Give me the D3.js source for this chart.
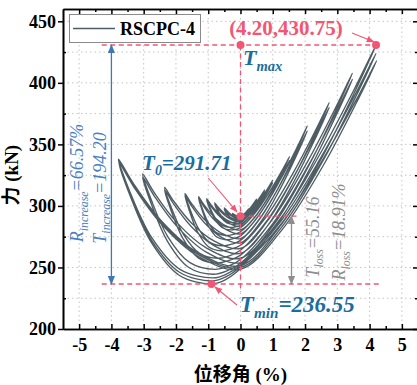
<!DOCTYPE html>
<html><head><meta charset="utf-8">
<script src="https://cdn.jsdelivr.net/npm/d3@7"></script>
<style>html,body{margin:0;padding:0;background:#fff;} svg{display:block;}</style>
</head><body>
<svg id="chart" width="417" height="385"></svg>
<script>
// ---------- data ----------
const xTickValues = [-5,-4,-3,-2,-1,0,1,2,3,4,5];
const xMinorTicks = [-4.5,-3.5,-2.5,-1.5,-0.5,0.5,1.5,2.5,3.5,4.5];
const yTickValues = [200,250,300,350,400,450];
const yMinorTicks = [225,275,325,375,425];
const xGridValues = [-5,-4,-3,-2,-1,0,1,2,3,4,5];
const yGridValues = [225,250,275,300,325,350,375,400,425,450];
const xDomain = [-5.5, 5.5];
const yDomain = [200, 460];
const seriesName = "RSCPC-4";
const xTitle = "位移角 (%)";
const yTitle = "力 (kN)";

// hysteresis cycles: [drift %, force kN]
const level1 = [[0,291.71],[0.13,293.8],[0.25,297.5],[0.13,293.3],[0,291.4],[-0.13,292.1],[-0.25,294],[-0.16,291.8],[-0.08,291.0],[-0.04,291.1],
 [0,291.3],[0.13,293.3],[0.25,297],[0.13,292.8],[0,291.0],[-0.13,291.7],[-0.25,293.5],[-0.16,291.4],[-0.08,290.6],[-0.04,290.7]];
const level2 = [[0,290.9],[0.25,296.8],[0.375,300.9],[0.5,305.5],[0.375,300.2],[0.25,296.0],[0,290.4],[-0.25,292.4],[-0.4,295.6],[-0.5,298.5],[-0.41,293.8],[-0.29,290.2],[-0.15,289.3],[-0.075,289.5],
 [0,290],[0.25,295.9],[0.375,300.0],[0.5,304.5],[0.375,299.3],[0.25,295.1],[0,289.5],[-0.25,291.5],[-0.4,294.6],[-0.5,297.5],[-0.41,292.8],[-0.29,289.3],[-0.15,288.4],[-0.075,288.6]];
const level3 = [[0,289.2],[0.225,294.2],[0.45,301.5],[0.6375,308.5],[0.75,313],[0.6375,308.0],[0.45,300.5],[0.225,293.0],[0,288.5],[-0.28,290.2],[-0.52,294.4],[-0.704,299.3],[-0.8,302.5],[-0.73,298.1],[-0.597,292.0],[-0.423,287.7],[-0.22,286.5],[-0.11,286.9],
 [0,287.8],[0.225,292.8],[0.45,300.0],[0.6375,307.0],[0.75,311.5],[0.6375,306.5],[0.45,299.0],[0.225,291.5],[0,287.0],[-0.28,288.8],[-0.52,293.1],[-0.704,298.2],[-0.8,301.5],[-0.73,297.0],[-0.597,290.6],[-0.423,286.2],[-0.22,285.0],[-0.11,285.4]];
const level4 = [[0,286.3],[0.3,293.6],[0.6,304.2],[0.85,314.4],[1.0,321],[0.85,313.8],[0.6,302.8],[0.3,291.9],[0,285.3],[-0.3675,287.8],[-0.6825,294.1],[-0.924,301.3],[-1.05,306],[-0.96,299.6],[-0.7875,290.5],[-0.5625,284.2],[-0.3,282.5],[-0.15,283.0],
 [0,284.3],[0.3,291.6],[0.6,302.2],[0.85,312.4],[1.0,319],[0.85,311.8],[0.6,300.8],[0.3,289.9],[0,283.3],[-0.3675,286.0],[-0.6825,292.5],[-0.924,300.1],[-1.05,305],[-0.96,298.3],[-0.7875,288.9],[-0.5625,282.3],[-0.3,280.5],[-0.15,281.0]];
const level5 = [[0,282.3],[0.456,294.4],[0.912,312.0],[1.292,329.0],[1.52,340],[1.292,327.9],[0.912,309.6],[0.456,291.5],[0,280.5],[-0.455,283.8],[-0.845,291.9],[-1.144,301.4],[-1.3,307.5],[-1.198,298.9],[-1.0025,286.7],[-0.7475,278.3],[-0.45,276],[-0.225,276.9],
 [0,279],[0.456,291.1],[0.912,308.9],[1.292,326.0],[1.52,337],[1.292,324.9],[0.912,306.5],[0.456,288.3],[0,277.3],[-0.455,280.9],[-0.845,289.6],[-1.144,299.9],[-1.3,306.5],[-1.198,297.2],[-1.0025,284.1],[-0.7475,275.0],[-0.45,272.5],[-0.225,273.5]];
const level6 = [[0,275.7],[0.621,294.4],[1.242,321.7],[1.7595,348.0],[2.07,365],[1.7595,346.4],[1.242,318.2],[0.621,290.4],[0,273.5],[-0.602,278.0],[-1.118,288.9],[-1.514,301.8],[-1.72,310],[-1.58,298.4],[-1.31,282.0],[-0.96,270.6],[-0.55,267.5],[-0.275,268.9],
 [0,272],[0.621,290.6],[1.242,317.8],[1.7595,344.1],[2.07,361],[1.7595,342.5],[1.242,314.5],[0.621,286.8],[0,270],[-0.602,274.7],[-1.118,286.3],[-1.514,299.8],[-1.72,308.5],[-1.586,296.2],[-1.328,278.8],[-0.992,266.8],[-0.6,263.5],[-0.3,264.9]];
const level7 = [[0,268],[0.825,292.2],[1.65,327.7],[2.3375,362.0],[2.75,384],[2.3375,359.9],[1.65,323.4],[0.825,287.4],[0,265.5],[-0.8225,271.6],[-1.5275,286.4],[-2.068,303.8],[-2.35,315],[-2.152,299.2],[-1.7725,277.1],[-1.2775,261.7],[-0.7,257.5],[-0.35,259.5],
 [0,264],[0.825,288.2],[1.65,323.7],[2.3375,358.0],[2.75,380],[2.3375,355.9],[1.65,319.4],[0.825,283.4],[0,261.5],[-0.8225,267.8],[-1.5275,283.3],[-2.068,301.4],[-2.35,313],[-2.158,296.7],[-1.79,273.8],[-1.31,257.8],[-0.75,253.5],[-0.375,255.5]];
const level8 = [[0,260],[1.041,290.9],[2.082,336.2],[2.9495,379.9],[3.47,408],[2.9495,377.4],[2.082,331.1],[1.041,285.3],[0,257.5],[-1.0605,265.9],[-1.9695,286.4],[-2.6664,310.5],[-3.03,326],[-2.762,304.8],[-2.25,274.9],[-1.58,254.1],[-0.8,248.5],[-0.4,250.9],
 [0,256.5],[1.041,287.1],[2.082,331.9],[2.9495,375.2],[3.47,403],[2.9495,372.8],[2.082,326.9],[1.041,281.6],[0,254],[-1.0605,262.5],[-1.9695,283.4],[-2.6664,307.8],[-3.03,323.5],[-2.768,301.9],[-2.267,271.4],[-1.613,250.2],[-0.85,244.5],[-0.425,247.2]];
const level9 = [[0,253.5],[1.26,290.5],[2.52,344.8],[3.57,397.1],[4.2,430.75],[3.57,394.4],[2.52,339.2],[1.26,284.7],[0,251.5],[-1.323,262.1],[-2.457,288.0],[-3.3264,318.5],[-3.78,338],[-3.428,311.6],[-2.7545,274.4],[-1.8755,248.5],[-0.85,241.5],[-0.425,244.7],
 [0,252],[1.26,287.9],[2.52,340.6],[3.57,391.3],[4.2,424],[3.57,388.7],[2.52,335.1],[1.26,282.2],[0,250],[-1.3195,260.6],[-2.4505,286.5],[-3.3176,317.0],[-3.77,336.5],[-3.423,309.8],[-2.7585,272.2],[-1.8915,246.1],[-0.88,239],[-0.44,242.5],
 [0,250.5],[1.266,285.5],[2.532,336.8],[3.587,386.2],[4.22,418],[3.587,383.6],[2.532,331.4],[1.266,279.9],[0,248.5],[-1.316,259.1],[-2.444,285.0],[-3.3088,315.5],[-3.76,335],[-3.417,308.0],[-2.759,270.1],[-1.901,243.7],[-0.9,236.55],[-0.45,240.3],[0,249]];

// key points
const tMaxPoint = [4.20, 430.75];
const tMaxRef = [0, 430.75];
const t0Point = [0, 291.71];
const tMinPoint = [-0.9, 236.55];
const tMaxLabel = "(4.20,430.75)";
const t0Value = "291.71";
const tMinValue = "236.55";
const tLossValue = "55.16";
const rLossValue = "18.91%";
const tIncValue = "194.20";
const rIncValue = "66.57%";

// ---------- drawing ----------
const M = {l:63, t:9, r:418, b:329};
const x = d3.scaleLinear().domain(xDomain).range([M.l, M.r]);
const y = d3.scaleLinear().domain(yDomain).range([M.b, M.t]);
const svg = d3.select('#chart');
const serif = "'Liberation Serif','Times New Roman',serif";
const red = '#f25672', blueDark = '#1a6d9e', blueArrow = '#3f78b8', blueText = '#4a80c0', grayA = '#8e8e8e';
const lineColor = '#4e5c64';

const defs = svg.append('defs');
function marker(id, color, size){
  defs.append('marker').attr('id', id).attr('viewBox','0 0 10 10').attr('refX',9).attr('refY',5)
    .attr('markerWidth', size).attr('markerHeight', size).attr('markerUnits','userSpaceOnUse')
    .attr('orient','auto-start-reverse')
    .append('path').attr('d','M0,1 L10,5 L0,9 Z').attr('fill', color);
}
marker('arRed', red, 8); marker('arBlue', blueArrow, 9); marker('arGray', grayA, 9);

// grid
const grid = svg.append('g');
grid.selectAll('.gy').data(yGridValues).join('line')
  .attr('x1', M.l).attr('x2', M.r).attr('y1', d=>y(d)).attr('y2', d=>y(d))
  .attr('stroke','#c4c4c4').attr('stroke-width',1).attr('stroke-dasharray','1.5,3');
grid.selectAll('.gx').data(xGridValues).join('line')
  .attr('y1', M.t).attr('y2', M.b).attr('x1', d=>x(d)).attr('x2', d=>x(d))
  .attr('stroke','#c4c4c4').attr('stroke-width',1).attr('stroke-dasharray','1.5,3');

// loops
const allLevels = [level1, level2, level3, level4, level5, level6, level7, level8, level9];
const path = d3.line().x(d=>x(d[0])).y(d=>y(d[1])).curve(d3.curveCatmullRom.alpha(0.5));
svg.append('path').datum(allLevels.flat())
  .attr('d', path).attr('fill','none').attr('stroke', lineColor).attr('stroke-width',1.35)
  .attr('stroke-linejoin','round');

// red dashed reference lines
const ann = svg.append('g');
function dashed(x1,y1,x2,y2){
  ann.append('line').attr('x1',x(x1)).attr('y1',y(y1)).attr('x2',x(x2)).attr('y2',y(y2))
    .attr('stroke',red).attr('stroke-width',1.3).attr('stroke-dasharray','5,3.5');
}
dashed(-4.3, tMaxPoint[1], tMaxPoint[0], tMaxPoint[1]);
dashed(0, tMaxPoint[1], 0, 230);
dashed(t0Point[0], t0Point[1], 1.83, t0Point[1]);
dashed(-4.3, tMinPoint[1], 4.33, tMinPoint[1]);

// double arrows
function dbl(xv, y1, y2, color, mk){
  ann.append('line').attr('x1',x(xv)).attr('x2',x(xv)).attr('y1',y(y1)).attr('y2',y(y2))
    .attr('stroke',color).attr('stroke-width',1.3)
    .attr('marker-start',`url(#${mk})`).attr('marker-end',`url(#${mk})`);
}
dbl(-4, tMaxPoint[1], tMinPoint[1], blueArrow, 'arBlue');
dbl(1.58, t0Point[1], tMinPoint[1], grayA, 'arGray');

// red pointer arrows
function pointer(x1,y1,x2,y2){
  ann.append('line').attr('x1',x(x1)).attr('y1',y(y1)).attr('x2',x(x2)).attr('y2',y(y2))
    .attr('stroke',red).attr('stroke-width',1.1).attr('marker-end','url(#arRed)');
}
pointer(3.456, 440.5, 4.13, 433.3);
pointer(-1.0, 322.7, -0.11, 295.1);
pointer(-0.11, 219.5, -0.79, 234.1);

// red dots
ann.selectAll('circle').data([tMaxRef, tMaxPoint, t0Point, tMinPoint]).join('circle')
  .attr('cx', d=>x(d[0])).attr('cy', d=>y(d[1])).attr('r',4).attr('fill',red);

// labels
ann.append('text').attr('x', x(1.41)).attr('y', y(438.9)).attr('text-anchor','middle')
  .attr('font-family',serif).attr('font-weight','bold').attr('font-size',21).attr('fill',red).text(tMaxLabel);

function subLabel(xv, yv, main, sub, rest, size, color, weight){
  const t = ann.append('text').attr('x', x(xv)).attr('y', y(yv)).attr('font-family',serif)
    .attr('font-style','italic').attr('font-weight',weight).attr('font-size',size).attr('fill',color);
  t.append('tspan').text(main);
  t.append('tspan').attr('font-size', size*0.66).attr('dy', size*0.25).text(sub);
  if (rest) t.append('tspan').attr('dy', -size*0.25).text(rest);
  return t;
}
subLabel(0.08, 414.5, 'T', 'max', '', 22, blueDark, 'bold');
subLabel(-3.05, 329.2, 'T', '0', '=' + t0Value, 21, blueDark, 'bold');
subLabel(-0.02, 213.8, 'T', 'min', '=' + tMinValue, 23, blueDark, 'bold');

function rotLabel(xv, yv, main, sub, rest, size, color){
  const t = ann.append('text').attr('transform', `translate(${x(xv)},${y(yv)}) rotate(-90)`)
    .attr('text-anchor','middle').attr('font-family',serif).attr('font-style','italic')
    .attr('font-size',size).attr('fill',color);
  t.append('tspan').text(main);
  t.append('tspan').attr('font-size', size*0.66).attr('dy', size*0.25).text(sub);
  t.append('tspan').attr('dy', -size*0.25).text(rest);
}
rotLabel(2.43, 274.7, 'T', 'loss', '=' + tLossValue, 18, grayA);
rotLabel(3.24, 278.8, 'R', 'loss', '=' + rLossValue, 18, grayA);
rotLabel(-4.17, 314.6, 'T', 'increase', '=' + tIncValue, 18, blueText);
rotLabel(-4.88, 318.6, 'R', 'increase', '=' + rIncValue, 18, blueText);

// axes
const axG = svg.append('g').attr('font-family', serif);
function styleAxis(g){ g.selectAll('path,line').attr('stroke','#000').attr('stroke-width',1.5); g.select('.domain').attr('stroke-width',1.6); }
const bottom = axG.append('g').attr('transform',`translate(0,${M.b})`)
  .call(d3.axisBottom(x).tickValues(xTickValues).tickSizeInner(-5).tickSizeOuter(0).tickPadding(9).tickFormat(d=>String(d)));
bottom.call(styleAxis);
bottom.selectAll('text').attr('font-size',18).attr('font-weight','bold').attr('font-family',serif).attr('fill','#000');
axG.append('g').attr('transform',`translate(0,${M.b})`)
  .call(d3.axisBottom(x).tickValues(xMinorTicks).tickSizeInner(-3).tickSizeOuter(0).tickFormat(''))
  .call(styleAxis);
const left = axG.append('g').attr('transform',`translate(${M.l},0)`)
  .call(d3.axisLeft(y).tickValues(yTickValues).tickSizeInner(5).tickSizeOuter(0).tickPadding(2).tickFormat(d=>String(d)));
left.call(styleAxis);
left.selectAll('text').attr('font-size',18).attr('font-weight','bold').attr('font-family',serif).attr('fill','#000');
axG.append('g').attr('transform',`translate(${M.l},0)`)
  .call(d3.axisLeft(y).tickValues(yMinorTicks).tickSizeInner(-3).tickSizeOuter(0).tickFormat(''))
  .call(styleAxis);
axG.append('g').attr('transform',`translate(0,${M.t})`)
  .call(d3.axisTop(x).tickValues(xTickValues).tickSizeInner(-5).tickSizeOuter(0).tickFormat(''))
  .call(styleAxis);
axG.append('g').attr('transform',`translate(0,${M.t})`)
  .call(d3.axisTop(x).tickValues(xMinorTicks).tickSizeInner(-3).tickSizeOuter(0).tickFormat(''))
  .call(styleAxis);
axG.append('g').attr('transform',`translate(${M.r},0)`)
  .call(d3.axisRight(y).tickValues(yTickValues).tickSizeInner(-5).tickSizeOuter(0).tickFormat(''))
  .call(styleAxis);
axG.append('g').attr('transform',`translate(${M.r},0)`)
  .call(d3.axisRight(y).tickValues(yMinorTicks).tickSizeInner(-3).tickSizeOuter(0).tickFormat(''))
  .call(styleAxis);

// axis titles
svg.append('text').attr('x', x(0)).attr('y', 381).attr('text-anchor','middle')
  .attr('font-family', "'Liberation Serif','Noto Sans CJK SC',serif").attr('font-weight','bold')
  .attr('font-size',19).attr('fill','#000').text(xTitle);
svg.append('text').attr('transform',`translate(18,${y(325)}) rotate(-90)`).attr('text-anchor','middle')
  .attr('font-family', "'Liberation Serif','Noto Sans CJK SC',serif").attr('font-weight','bold')
  .attr('font-size',19).attr('fill','#000').text(yTitle);

// legend
const lg = svg.append('g');
lg.append('rect').attr('x',69.5).attr('y',14.5).attr('width',131).attr('height',28)
  .attr('fill','#fff').attr('stroke','#8a8a8a').attr('stroke-width',1);
lg.append('line').attr('x1',73).attr('x2',115).attr('y1',28.5).attr('y2',28.5)
  .attr('stroke',lineColor).attr('stroke-width',1.3);
lg.append('text').attr('x',120).attr('y',35).attr('font-family',serif).attr('font-weight','bold')
  .attr('font-size',18).attr('fill','#000').text(seriesName);
</script>
</body></html>
